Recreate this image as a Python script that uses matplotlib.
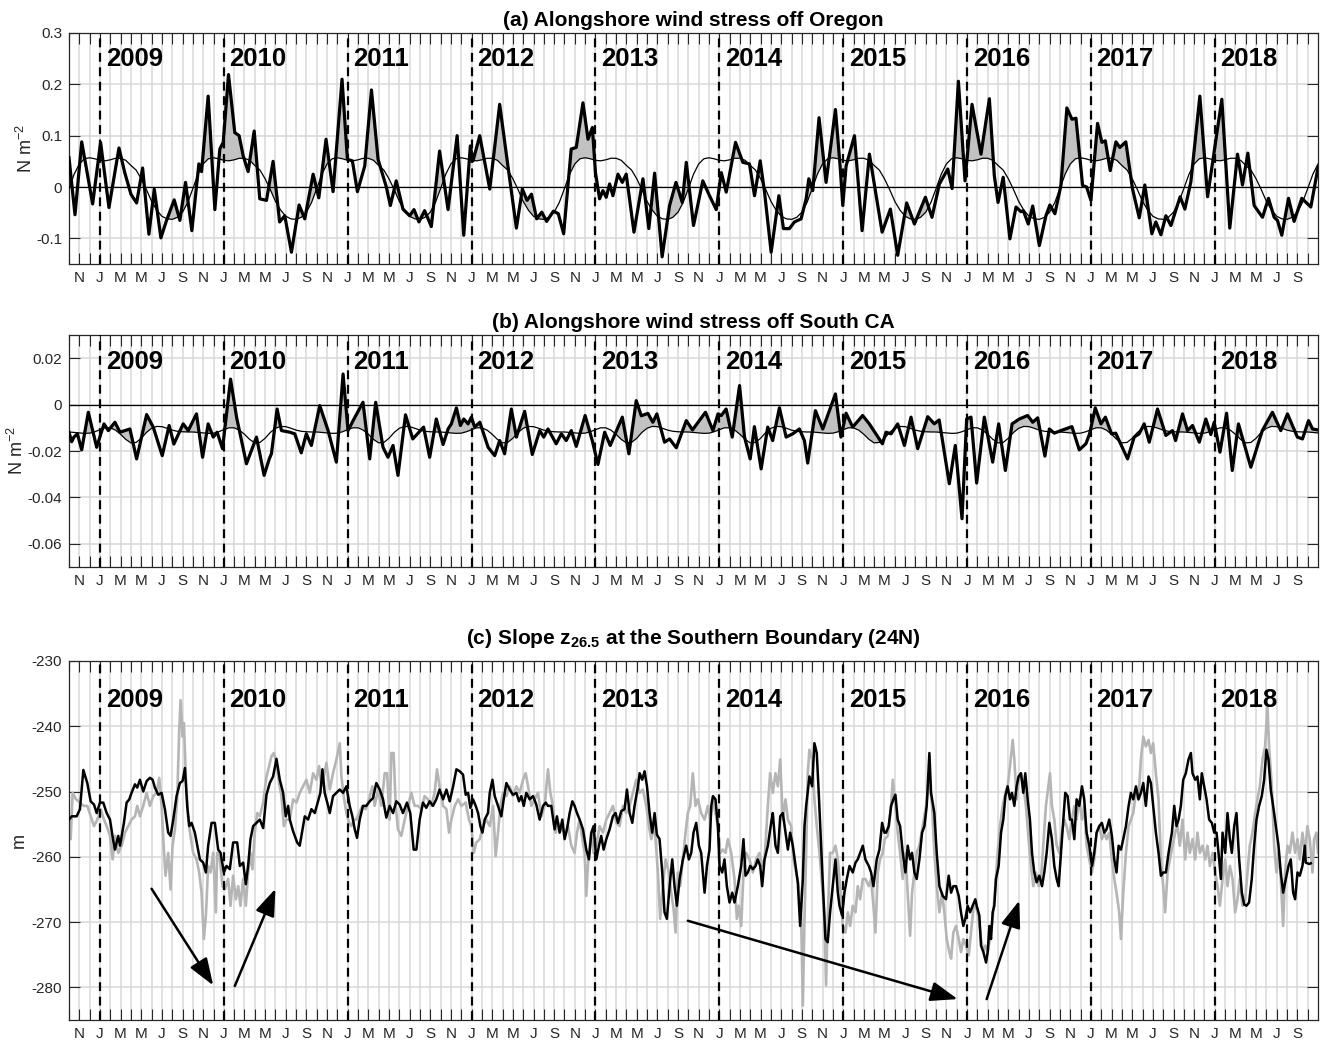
import numpy as np
import matplotlib.pyplot as plt
from matplotlib.ticker import FuncFormatter

plt.rcParams['font.family'] = ['Liberation Sans', 'DejaVu Sans']
plt.rcParams['axes.unicode_minus'] = False
plt.rcParams['mathtext.fontset'] = 'custom'
plt.rcParams['mathtext.rm'] = 'Liberation Sans'
plt.rcParams['mathtext.bf'] = 'Liberation Sans:bold'

# time axis is in months since 1 Oct 2008
years = list(range(2009, 2019))
year_starts = [3 + 12 * i for i in range(len(years))]
month_letters = 'JFMAMJJASOND'

# (a) alongshore wind stress off Oregon, N m-2, (month, value)
oregon = [
    (0.00, 0.057), (0.58, -0.054), (1.23, 0.088), (2.29, -0.033), (3.06, 0.087),
    (3.87, -0.040), (4.84, 0.076), (5.40, 0.028), (6.00, -0.014), (6.55, -0.031),
    (7.13, 0.037), (7.74, -0.092), (8.26, -0.004), (8.90, -0.099), (9.45, -0.065),
    (10.19, -0.025), (10.74, -0.065), (11.29, 0.009), (11.90, -0.085), (12.58, 0.045),
    (12.84, 0.030), (13.48, 0.177), (14.13, -0.044), (14.61, 0.074), (14.94, 0.087),
    (15.45, 0.219), (16.06, 0.106), (16.48, 0.100), (16.87, 0.061), (17.35, 0.030),
    (17.94, 0.109), (18.48, -0.023), (19.13, -0.026), (19.77, 0.050), (20.40, -0.068),
    (20.90, -0.056), (21.55, -0.127), (22.29, -0.035), (22.84, -0.062), (23.65, 0.025),
    (24.20, -0.021), (24.90, 0.093), (25.58, -0.009), (26.45, 0.210), (26.97, 0.054),
    (27.45, 0.051), (27.94, -0.009), (28.65, 0.041), (29.30, 0.189), (29.94, 0.054),
    (30.74, 0.000), (31.13, -0.036), (31.70, 0.012), (32.35, -0.043), (33.00, -0.056),
    (33.42, -0.044), (33.90, -0.068), (34.45, -0.046), (35.10, -0.077), (35.90, 0.070),
    (36.72, -0.044), (37.60, 0.100), (38.24, -0.094), (38.88, 0.080), (39.14, 0.051),
    (39.79, 0.100), (40.76, -0.004), (41.72, 0.161), (42.52, 0.041), (43.34, -0.080),
    (43.92, -0.004), (44.37, -0.026), (44.80, -0.014), (45.30, -0.062), (45.80, -0.049),
    (46.27, -0.067), (46.93, -0.047), (47.40, -0.052), (47.92, -0.091), (48.65, 0.074),
    (49.14, 0.077), (49.79, 0.164), (50.28, 0.093), (50.70, 0.116), (51.00, 0.028),
    (51.40, -0.023), (51.72, -0.007), (52.04, -0.020), (52.37, 0.006), (52.69, -0.017),
    (53.18, 0.025), (53.60, 0.009), (53.98, 0.025), (54.73, -0.088), (55.60, 0.016),
    (56.17, -0.081), (56.73, 0.027), (57.46, -0.136), (58.18, -0.036), (58.80, 0.009),
    (59.41, -0.030), (59.80, 0.048), (60.50, -0.075), (61.40, 0.012), (62.05, -0.017),
    (62.70, -0.044), (63.19, 0.028), (63.67, -0.010), (64.57, 0.087), (65.28, 0.048),
    (65.92, 0.045), (66.41, -0.017), (66.96, 0.051), (67.38, -0.010), (68.02, -0.127),
    (68.77, -0.017), (69.21, -0.081), (69.79, -0.081), (70.28, -0.068), (70.92, -0.062),
    (71.41, -0.023), (71.67, 0.016), (72.05, -0.007), (72.66, 0.135), (73.34, 0.009),
    (74.25, 0.151), (74.70, 0.041), (74.96, -0.036), (75.28, 0.041), (76.09, 0.100),
    (76.83, -0.085), (77.54, 0.064), (78.77, -0.088), (79.57, -0.043), (80.28, -0.133),
    (81.15, -0.031), (81.90, -0.072), (82.96, -0.020), (83.60, -0.059), (84.32, 0.006),
    (85.13, 0.035), (85.55, -0.003), (86.16, 0.206), (86.80, 0.012), (87.48, 0.161),
    (88.35, 0.064), (89.16, 0.172), (89.64, 0.022), (90.00, -0.030), (90.50, 0.019),
    (91.15, -0.101), (91.74, -0.039), (92.22, -0.048), (92.45, -0.046), (92.93, -0.072),
    (93.36, -0.037), (94.00, -0.114), (94.64, -0.056), (95.02, -0.035), (95.51, -0.052),
    (96.09, 0.003), (96.67, 0.154), (97.16, 0.132), (97.55, 0.134), (98.19, 0.003),
    (98.58, 0.000), (99.00, -0.026), (99.64, 0.124), (100.06, 0.087), (100.39, 0.090),
    (100.87, 0.032), (101.42, 0.088), (101.80, 0.077), (102.38, 0.088), (103.03, -0.004),
    (103.68, -0.060), (104.22, 0.004), (104.90, -0.091), (105.29, -0.068), (105.78, -0.093),
    (106.26, -0.056), (106.75, -0.075), (107.64, -0.019), (108.10, -0.043), (108.68, 0.010),
    (109.55, 0.177), (110.30, -0.019), (111.68, 0.171), (112.45, -0.080), (113.20, 0.064),
    (113.68, 0.004), (114.20, 0.066), (114.81, -0.036), (115.62, -0.059), (116.20, -0.022),
    (116.75, -0.059), (117.07, -0.065), (117.49, -0.094), (118.14, -0.022), (118.68, -0.067),
    (119.43, -0.022), (120.30, -0.039), (121.00, 0.038),
]
# seasonal cycle off Oregon, every half month from 1 Oct
oregon_clim = [-0.003, 0.025, 0.045, 0.055, 0.057, 0.055, 0.052, 0.051, 0.053, 0.056,
               0.056, 0.052, 0.042, 0.033, 0.016, -0.005, -0.028, -0.045, -0.057, -0.062,
               -0.063, -0.059, -0.049, -0.030]

# (b) alongshore wind stress off South CA
socal = [
    (0.00, -0.0119), (0.26, -0.0160), (0.48, -0.0140), (0.81, -0.0126), (1.23, -0.0195),
    (1.87, -0.0033), (2.68, -0.0184), (3.39, -0.0083), (3.81, -0.0112), (4.45, -0.0076),
    (4.94, -0.0119), (5.90, -0.0105), (6.55, -0.0234), (7.52, -0.0043), (8.16, -0.0097),
    (9.03, -0.0220), (9.70, -0.0090), (10.16, -0.0170), (11.06, -0.0083), (11.55, -0.0112),
    (12.35, -0.0040), (12.94, -0.0227), (13.48, -0.0083), (13.97, -0.0140), (14.35, -0.0119),
    (14.87, -0.0190), (15.65, 0.0110), (16.23, -0.0054), (17.19, -0.0255), (18.16, -0.0140),
    (18.90, -0.0305), (19.40, -0.0234), (19.61, -0.0212), (20.16, -0.0019), (20.58, -0.0112),
    (21.39, -0.0119), (21.87, -0.0126), (22.50, -0.0208), (22.99, -0.0126), (23.48, -0.0176),
    (24.29, -0.0004), (25.10, -0.0112), (25.90, -0.0248), (26.55, 0.0132), (27.03, -0.0112),
    (27.52, -0.0069), (28.48, 0.0010), (29.13, -0.0234), (29.71, 0.0010), (30.42, -0.0184),
    (30.90, -0.0227), (31.39, -0.0176), (31.87, -0.0305), (32.60, -0.0044), (33.30, -0.0148),
    (34.35, -0.0097), (34.94, -0.0227), (35.58, -0.0062), (36.24, -0.0172), (36.72, -0.0105),
    (37.04, -0.0083), (37.53, -0.0014), (37.92, -0.0090), (38.24, -0.0062), (38.66, -0.0083),
    (38.98, -0.0054), (39.30, -0.0097), (39.80, -0.0076), (40.60, -0.0184), (41.24, -0.0220),
    (41.72, -0.0155), (42.20, -0.0212), (42.85, -0.0019), (43.34, -0.0140), (44.14, -0.0029),
    (44.88, -0.0215), (45.60, -0.0112), (45.99, -0.0140), (46.40, -0.0105), (47.20, -0.0169),
    (47.69, -0.0126), (48.17, -0.0155), (48.66, -0.0112), (49.14, -0.0180), (50.00, -0.0047),
    (50.69, -0.0155), (51.24, -0.0258), (51.89, -0.0119), (52.43, -0.0176), (53.60, -0.0054),
    (54.24, -0.0212), (54.95, 0.0017), (55.44, -0.0048), (56.08, -0.0038), (56.56, -0.0076),
    (56.95, -0.0040), (57.69, -0.0162), (58.18, -0.0148), (58.83, -0.0186), (59.80, -0.0069),
    (60.40, -0.0109), (61.66, -0.0033), (62.38, -0.0112), (62.87, -0.0040), (63.19, -0.0047),
    (63.66, -0.0019), (64.25, -0.0140), (64.96, 0.0082), (65.44, -0.0140), (65.99, -0.0234),
    (66.40, -0.0095), (67.05, -0.0277), (67.69, -0.0097), (68.17, -0.0155), (68.82, -0.0014),
    (69.47, -0.0140), (70.11, -0.0126), (70.76, -0.0105), (71.24, -0.0155), (71.56, -0.0252),
    (72.31, -0.0026), (73.02, -0.0105), (74.25, 0.0046), (74.78, -0.0140), (75.28, -0.0037),
    (75.92, -0.0097), (76.88, -0.0047), (77.53, -0.0083), (78.80, -0.0169), (79.15, -0.0119),
    (79.64, -0.0126), (80.28, -0.0083), (80.93, -0.0176), (81.57, -0.0054), (82.22, -0.0190),
    (83.19, -0.0052), (83.83, -0.0083), (84.30, -0.0066), (85.28, -0.0341), (85.86, -0.0176),
    (86.51, -0.0492), (86.96, -0.0062), (87.38, -0.0054), (87.93, -0.0338), (88.67, -0.0054),
    (89.48, -0.0248), (90.06, -0.0083), (90.71, -0.0284), (91.36, -0.0083), (92.06, -0.0062),
    (92.87, -0.0047), (93.36, -0.0076), (93.84, -0.0057), (94.54, -0.0222), (94.97, -0.0105),
    (95.45, -0.0123), (96.09, -0.0112), (97.16, -0.0095), (97.87, -0.0195), (98.51, -0.0169),
    (98.87, -0.0126), (99.42, -0.0014), (99.97, -0.0083), (100.40, -0.0054), (101.00, -0.0126),
    (101.40, -0.0123), (102.55, -0.0234), (103.19, -0.0140), (103.67, -0.0126), (104.16, -0.0083),
    (104.65, -0.0162), (105.45, -0.0019), (106.26, -0.0133), (106.90, -0.0112), (107.20, -0.0155),
    (107.87, -0.0040), (108.36, -0.0112), (108.84, -0.0090), (109.50, -0.0162), (110.13, -0.0062),
    (110.62, -0.0129), (110.94, -0.0076), (111.50, -0.0205), (112.14, -0.0037), (112.69, -0.0284),
    (113.29, -0.0083), (114.49, -0.0270), (115.60, -0.0112), (116.58, -0.0033), (117.39, -0.0112),
    (118.04, -0.0040), (119.00, -0.0140), (119.49, -0.0148), (120.08, -0.0069), (120.47, -0.0105),
    (121.00, -0.0109),
]
socal_clim = [-0.0118, -0.0120, -0.0122, -0.0124, -0.0123, -0.0117, -0.0108, -0.0100,
              -0.0100, -0.0110, -0.0128, -0.0150, -0.0165, -0.0163, -0.0145, -0.0120,
              -0.0102, -0.0094, -0.0095, -0.0102, -0.0110, -0.0115, -0.0117, -0.0118]

# (c) slope of z26.5 at 24N, m (black curve)
slope_black = [
    (0.00, -254.3), (0.26, -253.8), (0.74, -253.8), (1.06, -252.7), (1.39, -246.7), (1.77, -248.7),
    (2.10, -251.5), (2.42, -252.0), (2.68, -253.3), (3.00, -251.7), (3.32, -251.7), (3.65, -253.3),
    (3.97, -254.3), (4.29, -257.6), (4.45, -258.9), (4.77, -256.8), (4.94, -258.3), (5.32, -254.8),
    (5.58, -251.7), (5.84, -251.2), (6.06, -250.2), (6.39, -248.9), (6.61, -249.4), (6.87, -248.2),
    (7.19, -250.0), (7.52, -248.4), (7.84, -247.9), (8.10, -248.2), (8.32, -249.4), (8.65, -250.5),
    (8.97, -250.2), (9.29, -252.7), (9.61, -256.3), (9.84, -256.8), (10.10, -254.3), (10.42, -250.7),
    (10.74, -248.7), (11.00, -248.4), (11.23, -246.4), (11.45, -252.2), (11.65, -255.3), (11.87, -254.8),
    (12.19, -256.3), (12.68, -260.4), (13.00, -260.9), (13.26, -262.4), (13.48, -258.3), (13.81, -254.8),
    (14.13, -254.8), (14.45, -258.9), (14.68, -259.4), (15.00, -262.4), (15.26, -261.4), (15.58, -261.9),
    (15.90, -257.8), (16.29, -257.8), (16.55, -261.4), (16.87, -260.9), (17.13, -264.2), (17.35, -261.4),
    (17.58, -257.3), (17.84, -255.3), (18.16, -254.8), (18.48, -254.3), (18.81, -255.6), (19.13, -250.5),
    (19.45, -248.7), (19.77, -247.7), (20.10, -245.0), (20.42, -248.2), (20.74, -250.2), (21.00, -253.8),
    (21.23, -252.2), (21.39, -254.3), (21.71, -256.1), (22.10, -257.8), (22.35, -258.3), (22.68, -255.3),
    (22.84, -253.8), (23.16, -254.3), (23.48, -252.7), (23.81, -253.3), (24.13, -251.5), (24.35, -250.2),
    (24.55, -246.6), (24.77, -250.2), (25.10, -252.2), (25.26, -253.3), (25.58, -250.7), (25.90, -250.2),
    (26.23, -249.7), (26.55, -250.2), (26.87, -249.2), (27.03, -250.7), (27.19, -252.2), (27.45, -253.8),
    (27.68, -255.8), (27.90, -257.1), (28.16, -254.3), (28.48, -252.2), (28.81, -252.2), (29.13, -251.5),
    (29.45, -251.0), (29.77, -248.7), (30.10, -249.7), (30.42, -251.2), (30.74, -254.0), (31.06, -252.2),
    (31.39, -253.3), (31.71, -251.5), (32.03, -252.0), (32.35, -253.3), (32.74, -251.7), (33.06, -253.3),
    (33.39, -258.9), (33.65, -258.9), (33.97, -254.3), (34.29, -251.7), (34.61, -252.5), (34.94, -251.5),
    (35.26, -252.2), (35.58, -251.2), (35.90, -249.7), (36.24, -251.2), (36.56, -249.7), (36.88, -251.5),
    (37.21, -249.2), (37.53, -246.6), (37.85, -246.9), (38.17, -247.4), (38.43, -250.5), (38.66, -250.2),
    (38.88, -252.5), (39.14, -251.2), (39.40, -252.2), (39.63, -253.3), (39.85, -255.3), (40.05, -256.3),
    (40.27, -254.3), (40.59, -253.3), (40.76, -250.2), (41.02, -248.2), (41.24, -250.7), (41.56, -252.2),
    (41.88, -253.8), (42.11, -251.2), (42.37, -248.7), (42.69, -249.7), (43.01, -250.5), (43.34, -250.2),
    (43.59, -251.5), (43.82, -250.7), (44.05, -252.2), (44.30, -250.2), (44.63, -251.2), (44.95, -250.7),
    (45.27, -252.0), (45.59, -254.3), (45.92, -252.2), (46.18, -251.7), (46.40, -252.2), (46.72, -252.2),
    (47.04, -255.8), (47.27, -253.8), (47.53, -256.3), (47.79, -254.3), (48.01, -257.3), (48.24, -255.8),
    (48.50, -253.3), (48.76, -251.5), (48.98, -252.2), (49.21, -253.3), (49.47, -254.3), (49.79, -255.8),
    (50.11, -258.9), (50.37, -260.4), (50.60, -256.3), (50.82, -255.3), (51.08, -260.4), (51.34, -258.3),
    (51.56, -256.8), (51.79, -258.9), (52.05, -257.3), (52.37, -255.8), (52.69, -253.8), (52.95, -253.3),
    (53.18, -254.8), (53.50, -253.0), (53.82, -252.7), (54.05, -249.7), (54.31, -253.3), (54.57, -254.8),
    (54.79, -252.2), (55.12, -249.2), (55.28, -247.2), (55.53, -248.2), (55.76, -246.9), (55.99, -249.2),
    (56.24, -253.3), (56.50, -256.3), (56.73, -253.3), (56.95, -256.6), (57.21, -257.3), (57.47, -262.4),
    (57.69, -268.5), (57.92, -269.5), (58.18, -264.5), (58.44, -260.4), (58.66, -264.5), (58.89, -267.5),
    (59.15, -263.4), (59.47, -260.4), (59.79, -258.3), (60.05, -260.4), (60.28, -259.4), (60.50, -256.3),
    (60.76, -254.8), (61.02, -258.3), (61.24, -259.4), (61.57, -265.5), (61.80, -261.4), (62.05, -258.9),
    (62.22, -252.2), (62.38, -250.7), (62.63, -251.2), (62.86, -255.3), (63.02, -261.4), (63.28, -262.4),
    (63.50, -260.4), (63.73, -264.5), (63.99, -267.0), (64.25, -265.5), (64.47, -267.0), (64.79, -264.5),
    (65.12, -261.4), (65.34, -257.3), (65.54, -262.9), (65.76, -262.4), (65.99, -261.4), (66.25, -261.9),
    (66.51, -261.4), (66.73, -260.4), (66.96, -261.4), (67.15, -264.5), (67.38, -260.4), (67.70, -258.3),
    (68.02, -254.8), (68.18, -253.3), (68.44, -258.3), (68.67, -259.4), (68.90, -253.8), (69.15, -253.3),
    (69.41, -256.3), (69.64, -258.9), (69.86, -256.3), (70.12, -258.3), (70.38, -261.4), (70.60, -263.9),
    (70.83, -270.6), (71.09, -263.4), (71.25, -255.3), (71.41, -252.2), (71.73, -247.7), (71.99, -249.2),
    (72.21, -242.6), (72.44, -244.1), (72.63, -250.2), (72.86, -258.3), (73.02, -263.9), (73.28, -272.6),
    (73.50, -273.1), (73.73, -268.5), (73.99, -264.5), (74.25, -260.4), (74.48, -265.5), (74.64, -267.5),
    (74.90, -269.0), (75.12, -265.5), (75.35, -263.4), (75.61, -261.4), (75.93, -262.4), (76.19, -260.9),
    (76.41, -260.4), (76.64, -259.4), (76.90, -258.3), (77.15, -260.4), (77.48, -261.4), (77.70, -262.4),
    (77.93, -264.5), (78.25, -260.4), (78.51, -258.9), (78.77, -254.8), (78.99, -256.3), (79.15, -256.3),
    (79.41, -255.3), (79.64, -252.2), (79.86, -251.2), (80.06, -250.5), (80.28, -254.3), (80.51, -255.3),
    (80.77, -259.4), (81.03, -262.4), (81.25, -258.3), (81.48, -260.4), (81.67, -259.4), (81.90, -262.4),
    (82.12, -263.4), (82.38, -260.4), (82.64, -256.3), (82.87, -255.3), (83.09, -252.2), (83.35, -244.1),
    (83.51, -250.2), (83.83, -253.3), (84.06, -259.4), (84.32, -264.5), (84.64, -266.0), (84.96, -266.5),
    (85.22, -262.9), (85.45, -265.5), (85.67, -264.5), (85.93, -264.5), (86.19, -266.0), (86.41, -268.5),
    (86.64, -270.6), (86.83, -269.5), (87.06, -267.5), (87.29, -268.5), (87.54, -267.5), (87.80, -266.5),
    (87.93, -267.5), (88.19, -269.0), (88.35, -273.6), (88.58, -274.6), (88.84, -276.2), (89.00, -274.6),
    (89.16, -270.6), (89.32, -272.6), (89.48, -268.5), (89.64, -267.5), (89.80, -263.4), (90.06, -261.4),
    (90.29, -256.3), (90.51, -254.3), (90.71, -250.7), (90.93, -249.2), (91.16, -251.2), (91.35, -250.2),
    (91.58, -252.2), (91.80, -249.2), (91.99, -247.7), (92.22, -247.2), (92.45, -250.2), (92.64, -247.2),
    (92.87, -251.2), (93.09, -254.3), (93.29, -259.4), (93.51, -262.4), (93.74, -263.9), (94.00, -262.9),
    (94.26, -264.5), (94.48, -262.4), (94.71, -259.4), (94.97, -254.8), (95.22, -257.3), (95.45, -261.4),
    (95.68, -263.4), (95.87, -264.5), (96.10, -259.4), (96.32, -254.3), (96.51, -250.2), (96.74, -250.7),
    (96.97, -254.3), (97.16, -254.3), (97.39, -257.3), (97.61, -251.2), (97.87, -252.2), (98.13, -249.2),
    (98.35, -251.2), (98.58, -256.3), (98.84, -258.3), (99.10, -261.4), (99.32, -259.4), (99.55, -256.3),
    (99.81, -255.3), (100.06, -254.8), (100.29, -256.3), (100.51, -255.8), (100.77, -254.3), (101.03, -256.8),
    (101.26, -260.4), (101.48, -262.4), (101.68, -258.3), (101.91, -258.9), (102.13, -257.3), (102.39, -255.3),
    (102.65, -252.2), (102.87, -250.2), (103.10, -251.2), (103.36, -249.2), (103.61, -251.2), (103.84, -250.2),
    (104.07, -248.7), (104.32, -252.2), (104.58, -247.7), (104.81, -248.7), (105.03, -252.2), (105.29, -256.3),
    (105.55, -259.4), (105.78, -262.9), (106.00, -262.4), (106.26, -262.4), (106.52, -259.4), (106.84, -256.3),
    (107.07, -252.2), (107.29, -255.3), (107.49, -254.3), (107.71, -252.2), (107.94, -248.2), (108.19, -247.2),
    (108.45, -245.1), (108.68, -244.1), (108.84, -247.2), (109.10, -248.2), (109.32, -247.7), (109.55, -251.2),
    (109.74, -247.2), (109.97, -249.2), (110.20, -251.2), (110.45, -254.3), (110.71, -254.8), (110.94, -256.3),
    (111.17, -256.3), (111.36, -259.4), (111.59, -263.4), (111.75, -256.3), (112.01, -259.4), (112.23, -253.3),
    (112.46, -257.3), (112.65, -259.4), (112.88, -255.3), (113.10, -253.3), (113.36, -260.4), (113.62, -265.5),
    (113.84, -267.3), (114.07, -267.5), (114.32, -267.0), (114.58, -263.4), (114.81, -258.3), (115.04, -254.3),
    (115.29, -252.2), (115.55, -250.7), (115.78, -248.2), (116.00, -243.6), (116.20, -245.1), (116.42, -249.7),
    (116.65, -252.2), (116.91, -255.3), (117.17, -258.3), (117.39, -262.4), (117.62, -265.5), (117.88, -263.4),
    (118.14, -261.4), (118.36, -260.4), (118.59, -265.5), (118.78, -266.5), (119.01, -262.4), (119.23, -262.9),
    (119.49, -261.4), (119.72, -258.3), (119.81, -260.9), (120.14, -261.1), (120.30, -261.0),
]

# (c) grey curve
slope_gray = [
    (0.00, -254.0), (0.16, -257.3), (0.35, -250.2), (0.68, -251.2), (1.06, -251.7), (1.39, -252.2),
    (1.77, -252.2), (2.10, -253.8), (2.42, -255.3), (2.74, -254.3), (3.06, -252.7), (3.39, -254.3),
    (3.65, -255.3), (3.97, -256.8), (4.23, -260.4), (4.45, -256.8), (4.77, -259.4), (5.10, -258.3),
    (5.42, -256.3), (5.74, -255.3), (6.06, -254.3), (6.39, -253.8), (6.61, -252.2), (6.87, -253.8),
    (7.19, -252.2), (7.52, -250.2), (7.84, -252.2), (8.16, -250.7), (8.48, -250.2), (8.74, -247.9),
    (8.97, -252.2), (9.19, -258.9), (9.35, -262.9), (9.61, -259.4), (9.84, -265.0), (10.03, -258.3),
    (10.26, -255.8), (10.48, -251.2), (10.68, -240.5), (10.81, -236.0), (11.00, -241.6), (11.13, -239.5),
    (11.32, -247.7), (11.55, -254.3), (11.77, -256.8), (12.03, -259.4), (12.35, -260.4), (12.61, -262.4),
    (12.84, -265.5), (13.06, -272.6), (13.26, -269.0), (13.48, -261.4), (13.71, -262.4), (13.97, -259.4),
    (14.23, -268.5), (14.35, -259.4), (14.61, -260.4), (14.87, -264.5), (15.10, -265.0), (15.42, -263.4),
    (15.65, -267.5), (15.90, -262.9), (16.16, -266.5), (16.39, -264.5), (16.61, -267.5), (16.87, -263.4),
    (17.13, -267.5), (17.35, -262.4), (17.58, -259.4), (17.77, -261.9), (18.00, -256.3), (18.23, -253.3),
    (18.48, -253.8), (18.81, -251.7), (19.13, -247.7), (19.39, -246.1), (19.61, -244.6), (19.84, -244.1),
    (20.10, -245.6), (20.35, -248.7), (20.58, -250.7), (20.81, -255.3), (21.06, -254.3), (21.39, -254.3),
    (21.71, -251.2), (22.03, -251.7), (22.35, -250.2), (22.68, -249.2), (23.00, -248.2), (23.32, -250.2),
    (23.65, -247.2), (23.97, -248.2), (24.23, -246.1), (24.45, -249.2), (24.68, -247.7), (24.94, -245.6),
    (25.26, -249.7), (25.58, -247.2), (25.90, -245.1), (26.23, -242.6), (26.39, -247.7), (26.61, -250.7),
    (26.87, -253.3), (27.13, -254.8), (27.35, -255.3), (27.58, -254.3), (27.84, -254.3), (28.10, -253.3),
    (28.42, -252.2), (28.74, -252.7), (29.06, -251.2), (29.39, -249.2), (29.61, -252.2), (29.94, -249.7),
    (30.26, -252.2), (30.58, -247.2), (30.81, -247.2), (31.06, -254.3), (31.23, -244.1), (31.45, -244.1),
    (31.65, -252.2), (31.87, -255.8), (32.19, -256.8), (32.52, -254.3), (32.84, -252.2), (33.16, -250.2),
    (33.48, -252.2), (33.81, -252.2), (34.13, -252.7), (34.45, -250.7), (34.77, -251.2), (35.10, -252.2),
    (35.42, -250.2), (35.65, -246.6), (35.90, -249.2), (36.24, -252.2), (36.56, -252.7), (36.82, -256.3),
    (37.04, -254.3), (37.37, -252.2), (37.69, -251.2), (38.01, -252.2), (38.43, -251.7), (38.75, -254.3),
    (38.98, -255.3), (39.21, -259.4), (39.46, -257.8), (39.79, -257.3), (40.11, -255.3), (40.43, -254.3),
    (40.76, -255.3), (41.08, -252.2), (41.33, -259.9), (41.56, -256.3), (41.79, -252.2), (42.04, -250.2),
    (42.37, -250.7), (42.69, -249.2), (43.01, -250.7), (43.34, -249.2), (43.66, -250.2), (43.98, -248.2),
    (44.24, -247.2), (44.47, -249.2), (44.79, -252.2), (45.11, -251.2), (45.43, -250.2), (45.76, -253.8),
    (46.08, -252.2), (46.40, -246.6), (46.63, -250.2), (46.88, -252.2), (47.14, -256.3), (47.37, -254.8),
    (47.69, -255.8), (48.01, -256.3), (48.34, -255.3), (48.66, -258.3), (48.98, -259.4), (49.21, -256.3),
    (49.47, -254.3), (49.73, -257.3), (49.95, -259.4), (50.11, -266.0), (50.30, -260.4), (50.60, -256.3),
    (50.82, -259.4), (51.08, -258.3), (51.40, -255.3), (51.72, -256.3), (52.05, -254.3), (52.37, -253.3),
    (52.69, -252.2), (53.02, -254.8), (53.34, -255.3), (53.66, -252.2), (53.98, -253.3), (54.31, -252.2),
    (54.63, -250.2), (54.95, -248.2), (55.28, -250.2), (55.60, -249.7), (55.92, -252.2), (56.18, -255.3),
    (56.40, -257.3), (56.73, -255.3), (57.05, -262.4), (57.27, -269.5), (57.53, -264.5), (57.79, -260.4),
    (58.11, -262.4), (58.34, -265.5), (58.57, -268.0), (58.76, -271.6), (58.98, -262.4), (59.21, -264.5),
    (59.47, -260.4), (59.73, -256.3), (59.95, -253.3), (60.18, -252.2), (60.43, -247.2), (60.69, -252.2),
    (60.92, -251.2), (61.24, -253.3), (61.57, -254.3), (61.89, -252.2), (62.12, -254.3), (62.38, -251.2),
    (62.63, -253.3), (62.86, -255.3), (63.09, -259.4), (63.34, -258.9), (63.60, -259.4), (63.83, -257.3),
    (64.15, -259.4), (64.47, -263.4), (64.70, -269.5), (64.89, -267.5), (65.12, -270.6), (65.34, -262.4),
    (65.60, -259.4), (65.92, -260.4), (66.25, -262.4), (66.57, -260.4), (66.89, -259.4), (67.15, -261.4),
    (67.38, -260.4), (67.70, -252.2), (67.92, -247.2), (68.18, -250.2), (68.44, -247.2), (68.67, -249.2),
    (68.90, -245.1), (69.15, -254.3), (69.41, -251.2), (69.64, -254.3), (69.96, -255.3), (70.19, -260.4),
    (70.44, -262.4), (70.70, -264.5), (70.93, -269.5), (71.09, -282.8), (71.25, -269.5), (71.41, -259.4),
    (71.57, -247.2), (71.73, -243.6), (71.99, -245.1), (72.21, -251.2), (72.44, -255.3), (72.70, -259.4),
    (72.96, -264.5), (73.18, -269.5), (73.34, -279.7), (73.50, -269.5), (73.73, -259.4), (73.99, -259.4),
    (74.25, -258.3), (74.48, -260.4), (74.70, -264.5), (74.96, -270.6), (75.22, -271.6), (75.45, -268.5),
    (75.67, -270.6), (75.93, -267.5), (76.19, -268.5), (76.41, -264.5), (76.64, -266.5), (76.90, -263.4),
    (77.15, -263.4), (77.48, -264.5), (77.70, -263.4), (77.93, -267.5), (78.12, -271.6), (78.35, -262.4),
    (78.57, -260.4), (78.83, -259.4), (79.02, -257.3), (79.31, -256.8), (79.64, -252.2), (79.80, -248.2),
    (80.06, -252.2), (80.28, -256.3), (80.51, -259.4), (80.77, -263.4), (81.03, -259.4), (81.25, -265.5),
    (81.48, -272.1), (81.67, -265.5), (81.90, -262.4), (82.12, -259.4), (82.38, -258.3), (82.70, -255.3),
    (83.03, -252.2), (83.35, -248.2), (83.61, -252.2), (83.83, -259.4), (84.06, -264.5), (84.32, -268.5),
    (84.58, -265.5), (84.80, -268.5), (85.03, -272.6), (85.28, -274.6), (85.45, -275.6), (85.67, -271.6),
    (85.93, -270.6), (86.19, -272.6), (86.41, -274.6), (86.64, -272.6), (86.90, -273.6), (87.16, -275.1),
    (87.38, -271.6), (87.61, -268.0), (87.86, -267.5), (88.12, -269.5), (88.35, -272.6), (88.58, -274.6),
    (88.77, -273.6), (89.00, -274.6), (89.22, -272.6), (89.48, -269.5), (89.74, -264.5), (89.96, -259.4),
    (90.19, -255.3), (90.45, -252.2), (90.71, -250.2), (90.93, -249.2), (91.16, -246.1), (91.42, -242.1),
    (91.58, -245.1), (91.80, -251.2), (91.99, -248.2), (92.22, -247.2), (92.45, -249.2), (92.70, -252.2),
    (92.96, -257.3), (93.19, -261.4), (93.42, -264.5), (93.67, -262.4), (93.93, -264.5), (94.16, -263.4),
    (94.38, -258.3), (94.64, -252.2), (94.80, -250.2), (95.03, -247.2), (95.22, -252.2), (95.45, -254.3),
    (95.68, -258.3), (95.93, -259.4), (96.19, -256.3), (96.42, -254.3), (96.64, -255.3), (96.90, -257.3),
    (97.16, -254.3), (97.39, -252.2), (97.61, -254.3), (97.87, -251.2), (98.13, -254.3), (98.35, -252.2),
    (98.58, -258.3), (98.84, -260.4), (99.10, -262.4), (99.32, -260.4), (99.55, -256.3), (99.81, -255.3),
    (100.06, -257.3), (100.29, -256.3), (100.51, -257.3), (100.77, -256.3), (101.03, -260.4), (101.26, -263.4),
    (101.48, -265.5), (101.74, -268.5), (101.91, -272.6), (102.13, -265.5), (102.39, -259.4), (102.65, -255.3),
    (102.87, -254.3), (103.10, -253.3), (103.36, -250.2), (103.61, -251.2), (103.84, -245.1), (104.07, -241.6),
    (104.32, -243.1), (104.58, -242.1), (104.81, -244.1), (105.03, -242.6), (105.29, -247.2), (105.55, -251.2),
    (105.78, -260.4), (106.00, -264.5), (106.19, -268.5), (106.42, -262.4), (106.65, -260.4), (106.91, -258.3),
    (107.16, -256.3), (107.39, -255.3), (107.61, -258.3), (107.87, -254.3), (108.13, -260.4), (108.36, -256.3),
    (108.58, -259.4), (108.84, -257.3), (109.10, -260.4), (109.32, -256.3), (109.55, -259.4), (109.81, -258.3),
    (110.07, -260.4), (110.29, -258.3), (110.52, -261.4), (110.78, -259.4), (111.04, -262.4), (111.27, -264.5),
    (111.49, -267.5), (111.75, -263.4), (112.01, -260.4), (112.23, -264.5), (112.46, -261.4), (112.72, -263.4),
    (112.97, -268.5), (113.20, -266.5), (113.42, -263.4), (113.68, -267.5), (113.94, -266.5), (114.16, -262.4),
    (114.39, -258.3), (114.65, -256.3), (114.91, -253.3), (115.13, -251.2), (115.36, -249.2), (115.62, -245.1),
    (115.87, -243.1), (116.10, -237.0), (116.26, -243.1), (116.52, -249.2), (116.75, -258.3), (116.97, -262.4),
    (117.17, -259.4), (117.39, -263.4), (117.62, -270.6), (117.81, -262.4), (118.04, -258.3), (118.26, -259.4),
    (118.52, -256.3), (118.78, -259.4), (119.01, -257.3), (119.23, -260.4), (119.49, -256.3), (119.75, -259.4),
    (119.97, -255.3), (120.20, -257.3), (120.46, -262.4), (120.62, -257.3), (120.84, -256.3), (121.00, -259.4),
]

# arrows in panel (c): tail -> head, (month, m)
arrow_tails = [(8.00, -264.9), (16.06, -279.8), (59.95, -269.8), (88.90, -281.8)]
arrow_heads = [(13.97, -279.7), (20.00, -264.9), (86.09, -281.8), (92.06, -266.7)]

T_END = 121
INK = '#262626'
GRID = '#d9d9d9'


def clim_series(clim):
    # repeat the half-monthly seasonal cycle over the whole record
    knot_t = np.arange(0, 12.01, 0.5)
    knot_v = np.append(clim, clim[0])
    t = np.arange(0, T_END + 0.01, 0.5)
    return t, np.interp(t % 12, knot_t, knot_v), (knot_t, knot_v)


def style_axis(ax, ylim, yticks, year_y):
    ax.set_xlim(0, T_END)
    ax.set_ylim(*ylim)
    months = np.arange(0, T_END)
    ax.set_xticks(months)
    ax.set_xticklabels([month_letters[(m + 9) % 12] if m % 2 == 1 else '' for m in months])
    ax.set_yticks(yticks)
    ax.yaxis.set_major_formatter(FuncFormatter(lambda v, p: '%g' % round(v, 6)))
    ax.tick_params(direction='in', length=8, width=0.8, top=True, right=True,
                   colors=INK, labelsize=11, pad=5)
    ax.grid(True, color=GRID, lw=1.1)
    ax.set_axisbelow(True)
    for s in ax.spines.values():
        s.set_color(INK)
        s.set_linewidth(0.9)
    for x0, yr in zip(year_starts, years):
        ax.axvline(x0, color='k', lw=1.6, ls=(0, (4, 2.5)), zorder=4)
        ax.text(x0 + 0.55, year_y, str(yr), transform=ax.get_xaxis_transform(),
                ha='left', va='baseline', fontsize=18.5, fontweight='bold', zorder=6)


def wind_panel(ax, series, clim, ylim, yticks, title):
    t, v = np.array(series).T
    tc, vc, (knot_t, knot_v) = clim_series(clim)
    tt = np.union1d(t, tc)
    yy = np.interp(tt, t, v)
    cc = np.interp(tt % 12, knot_t, knot_v)
    ax.fill_between(tt, yy, cc, where=yy > cc, interpolate=True,
                    facecolor='#c2c2c2', edgecolor='none', zorder=2)
    ax.axhline(0, color='k', lw=0.9, zorder=3)
    ax.plot(tc, vc, color='k', lw=0.9, zorder=3)
    ax.plot(t, v, color='k', lw=2.3, solid_joinstyle='round', zorder=5)
    style_axis(ax, ylim, yticks, 0.855)
    ax.set_ylabel(r'N m$^{\mathrm{-2}}$', fontsize=13, color=INK, labelpad=0)
    ax.set_title(title, fontsize=15, fontweight='bold', pad=5)


fig = plt.figure(figsize=(13.22, 10.44), dpi=100)
ax_a = fig.add_axes([0.0522, 0.7471, 0.9448, 0.2213])
ax_b = fig.add_axes([0.0522, 0.4569, 0.9448, 0.2222])
ax_c = fig.add_axes([0.0522, 0.0230, 0.9448, 0.3439])

wind_panel(ax_a, oregon, oregon_clim, (-0.15, 0.3), [-0.1, 0, 0.1, 0.2, 0.3],
           '(a) Alongshore wind stress off Oregon')
wind_panel(ax_b, socal, socal_clim, (-0.07, 0.03), [-0.06, -0.04, -0.02, 0, 0.02],
           '(b) Alongshore wind stress off South CA')

tg, vg = np.array(slope_gray).T
tb, vb = np.array(slope_black).T
ax_c.plot(tg, vg, color='#b5b5b5', lw=1.9, zorder=2)
ax_c.plot(tb, vb, color='k', lw=1.8, zorder=3)
for tail, head in zip(arrow_tails, arrow_heads):
    ax_c.annotate('', xy=head, xytext=tail,
                  arrowprops=dict(arrowstyle='-|>,head_length=0.55,head_width=0.2',
                                  color='k', lw=1.8, mutation_scale=30,
                                  shrinkA=0, shrinkB=0), zorder=6)
style_axis(ax_c, (-285, -230), [-280, -270, -260, -250, -240, -230], 0.872)
ax_c.set_ylabel('m', fontsize=13, color=INK, labelpad=3)
ax_c.set_title(r'(c) Slope z$_{\mathbf{26.5}}$ at the Southern Boundary (24N)',
               fontsize=15, fontweight='bold', pad=12)

fig.savefig('out.png', dpi=100)
